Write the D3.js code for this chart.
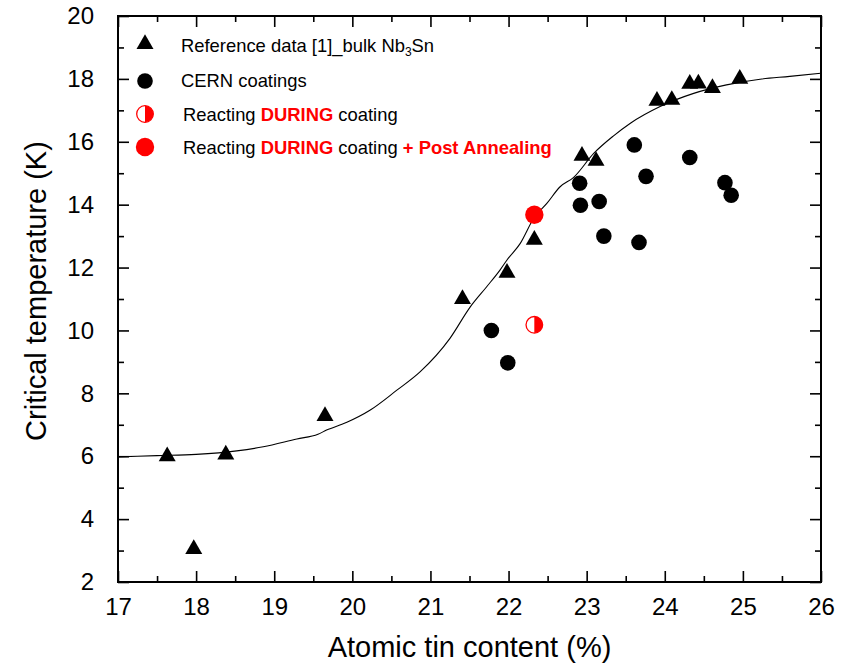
<!DOCTYPE html>
<html><head><meta charset="utf-8">
<script src="https://cdn.jsdelivr.net/npm/d3@7"></script>
<style>body{margin:0;background:#fff}svg{display:block;font-family:"Liberation Sans",Arial,sans-serif}</style>
</head><body><svg id="c" width="850" height="664"></svg>
<script>
// Reference data [1] bulk Nb3Sn (triangles)
const refX = [17.63, 17.97, 18.38, 19.65, 21.41, 21.98, 22.33, 22.94, 23.12, 23.90, 24.09, 24.32, 24.43, 24.61, 24.96];
const refY = [6.0, 3.05, 6.05, 7.28, 11.0, 11.83, 12.88, 15.55, 15.39, 17.30, 17.33, 17.84, 17.85, 17.71, 18.0];
// CERN coatings (black circles)
const cernX = [21.78, 21.99, 22.91, 22.92, 23.16, 23.22, 23.61, 23.76, 23.67, 24.32, 24.77, 24.85];
const cernY = [10.0, 8.97, 14.68, 13.98, 14.1, 13.0, 15.9, 14.9, 12.8, 15.5, 14.7, 14.3];
// Reacting DURING coating (half-filled red)
const duringX = [22.33];
const duringY = [10.18];
// Reacting DURING coating + Post Annealing (filled red)
const annealX = [22.33];
const annealY = [13.68];
// Fit curve
const fitX = [17.0, 17.5, 18.0, 18.52, 18.86, 19.29, 19.56, 19.67, 19.93, 20.23, 20.57, 20.87, 21.25, 21.51, 21.72, 21.89, 21.98, 22.15, 22.33, 22.49, 22.66, 22.83, 23.09, 23.34, 23.56, 23.94, 24.37, 24.79, 25.22, 25.6, 26.0];
const fitY = [5.98, 6.02, 6.06, 6.17, 6.30, 6.55, 6.70, 6.83, 7.08, 7.47, 8.10, 8.69, 9.75, 10.75, 11.39, 11.92, 12.24, 12.77, 13.6, 14.04, 14.57, 14.86, 15.63, 16.18, 16.59, 17.12, 17.54, 17.81, 17.99, 18.08, 18.18];
const xTicks = [17, 18, 19, 20, 21, 22, 23, 24, 25, 26];
const yTicks = [2, 4, 6, 8, 10, 12, 14, 16, 18, 20];
const xMinor = [17.5, 18.5, 19.5, 20.5, 21.5, 22.5, 23.5, 24.5, 25.5];
const yMinor = [3, 5, 7, 9, 11, 13, 15, 17, 19];
const legendLabels = ["Reference data [1]_bulk Nb", "CERN coatings", "Reacting ", "Reacting "];

const svg = d3.select("#c");
const L = 118, R = 821, T = 16, B = 582;
const x = d3.scaleLinear().domain([17, 26]).range([L, R]);
const y = d3.scaleLinear().domain([2, 20]).range([B, T]);

// axes with inward ticks
const g = svg.append("g");
function styleAxis(sel){
  sel.select(".domain").remove();
  sel.selectAll("line").attr("stroke","#000").attr("stroke-width",1.6);
}
g.append("g").attr("transform",`translate(0,${B})`)
 .call(d3.axisBottom(x).tickValues(xTicks).tickSize(-11).tickPadding(16).tickFormat(d3.format("d")))
 .call(styleAxis).call(s=>s.selectAll("text").attr("font-size",24).attr("fill","#000").attr("font-family","Liberation Sans, Arial, sans-serif"));
g.append("g").attr("transform",`translate(0,${B})`)
 .call(d3.axisBottom(x).tickValues(xMinor).tickSize(-6).tickFormat("")).call(styleAxis);
g.append("g").attr("transform",`translate(0,${T})`)
 .call(d3.axisTop(x).tickValues(xTicks).tickSize(-11).tickFormat("")).call(styleAxis);
g.append("g").attr("transform",`translate(0,${T})`)
 .call(d3.axisTop(x).tickValues(xMinor).tickSize(-6).tickFormat("")).call(styleAxis);
g.append("g").attr("transform",`translate(${L},0)`)
 .call(d3.axisLeft(y).tickValues(yTicks).tickSize(-11).tickPadding(24).tickFormat(d3.format("d")))
 .call(styleAxis).call(s=>s.selectAll("text").attr("font-size",24).attr("fill","#000").attr("font-family","Liberation Sans, Arial, sans-serif"));
g.append("g").attr("transform",`translate(${L},0)`)
 .call(d3.axisLeft(y).tickValues(yMinor).tickSize(-6).tickFormat("")).call(styleAxis);
g.append("g").attr("transform",`translate(${R},0)`)
 .call(d3.axisRight(y).tickValues(yTicks).tickSize(-11).tickFormat("")).call(styleAxis);
g.append("g").attr("transform",`translate(${R},0)`)
 .call(d3.axisRight(y).tickValues(yMinor).tickSize(-6).tickFormat("")).call(styleAxis);

svg.append("rect").attr("x",L).attr("y",T).attr("width",R-L).attr("height",B-T)
  .attr("fill","none").attr("stroke","#000").attr("stroke-width",2);

// fit line
const fit = fitX.map((v,i)=>[v, fitY[i]]);
svg.append("path").datum(fit)
  .attr("d", d3.line().x(d=>x(d[0])).y(d=>y(d[1])).curve(d3.curveMonotoneX))
  .attr("fill","none").attr("stroke","#000").attr("stroke-width",1.1);

const tri = d3.symbol().type(d3.symbolTriangle).size(125);
svg.append("g").selectAll("path").data(refX.map((v,i)=>[v, refY[i]])).join("path")
  .attr("d", tri).attr("transform", d=>`translate(${x(d[0])},${y(d[1])})`).attr("fill","#000");
svg.append("g").selectAll("circle").data(cernX.map((v,i)=>[v, cernY[i]])).join("circle")
  .attr("cx", d=>x(d[0])).attr("cy", d=>y(d[1])).attr("r", 7.8).attr("fill","#000");

function halfCircle(gs, r){
  gs.append("circle").attr("r", r).attr("fill","#fff").attr("stroke","#ff0000").attr("stroke-width",1.3);
  gs.append("path").attr("d", `M0,${-r} A${r},${r} 0 0 1 0,${r} Z`).attr("fill","#ff0000");
}
svg.append("g").selectAll("g").data(duringX.map((v,i)=>[v, duringY[i]])).join("g")
  .attr("transform", d=>`translate(${x(d[0])},${y(d[1])})`).each(function(){ halfCircle(d3.select(this), 8.3); });
svg.append("g").selectAll("circle").data(annealX.map((v,i)=>[v, annealY[i]])).join("circle")
  .attr("cx", d=>x(d[0])).attr("cy", d=>y(d[1])).attr("r", 9.2).attr("fill","#ff0000");

// legend
const lg = svg.append("g").attr("font-size",18.4).attr("fill","#000");
const ly = [46, 81, 114, 147];
lg.append("path").attr("d", tri).attr("transform", `translate(145,${ly[0]-2})`).attr("fill","#000");
lg.append("circle").attr("cx",145).attr("cy",ly[1]).attr("r",7.8).attr("fill","#000");
const hg = lg.append("g").attr("transform",`translate(145,${ly[2]})`); halfCircle(hg, 8.3);
lg.append("circle").attr("cx",145).attr("cy",ly[3]).attr("r",9.2).attr("fill","#ff0000");

const t1 = lg.append("text").attr("x",181).attr("y",ly[0]+6);
t1.append("tspan").text(legendLabels[0]);
t1.append("tspan").attr("font-size",12).attr("dy",4).text("3");
t1.append("tspan").attr("dy",-4).text("Sn");
lg.append("text").attr("x",181).attr("y",ly[1]+6).text(legendLabels[1]);
const t3 = lg.append("text").attr("x",183).attr("y",ly[2]+7);
t3.append("tspan").text(legendLabels[2]);
t3.append("tspan").attr("fill","#ff0000").attr("font-weight","bold").text("DURING");
t3.append("tspan").text(" coating");
const t4 = lg.append("text").attr("x",183).attr("y",ly[3]+7);
t4.append("tspan").text(legendLabels[3]);
t4.append("tspan").attr("fill","#ff0000").attr("font-weight","bold").text("DURING");
t4.append("tspan").text(" coating ");
t4.append("tspan").attr("fill","#ff0000").attr("font-weight","bold").text("+ Post Annealing");

// axis titles
svg.append("text").attr("x", (L+R)/2).attr("y", 657).attr("text-anchor","middle")
  .attr("font-size",29).attr("fill","#000").text("Atomic tin content (%)");
svg.append("text").attr("transform","translate(46,291) rotate(-90)").attr("text-anchor","middle")
  .attr("font-size",29).attr("fill","#000").text("Critical temperature (K)");
</script></body></html>
